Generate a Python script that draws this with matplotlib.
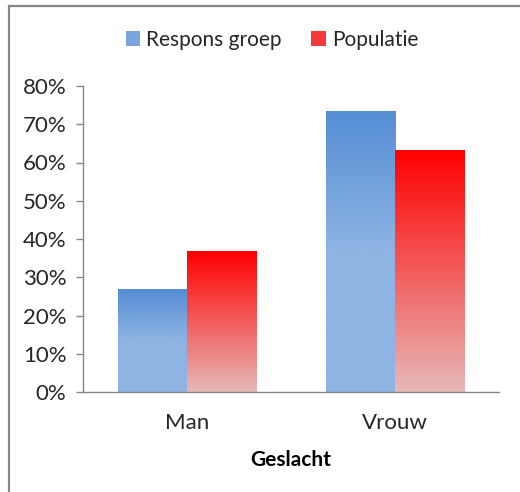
import numpy as np
import matplotlib
matplotlib.use("Agg")
import matplotlib.pyplot as plt
from matplotlib.colors import LinearSegmentedColormap
from matplotlib.patches import Rectangle, Patch
from matplotlib.ticker import PercentFormatter

categories = ["Man", "Vrouw"]
series_names = ["Respons groep", "Populatie"]
respons = [0.267, 0.733]
populatie = [0.368, 0.632]
yticks = [0.0, 0.1, 0.2, 0.3, 0.4, 0.5, 0.6, 0.7, 0.8]
xlabel = "Geslacht"

plt.rcParams['font.family'] = ['Lato', 'DejaVu Sans']

W, H = 520, 492
fig = plt.figure(figsize=(W / 100, H / 100), dpi=100)
ax = fig.add_axes([83 / W, 1 - 392 / H, (499 - 83) / W, (392 - 86) / H])

blue_cmap = LinearSegmentedColormap.from_list(
    "b", [(0.0, "#8eb4e3"), (0.5, "#8eb4e3"), (1.0, "#558ed5")])
red_cmap = LinearSegmentedColormap.from_list(
    "r", [(0.0, "#e6b9b8"), (1.0, "#ff0000")])

x = np.arange(len(categories))
bw = 1 / 3
bars1 = ax.bar(x - bw / 2, respons, bw, color="none", edgecolor="none")
bars2 = ax.bar(x + bw / 2, populatie, bw, color="none", edgecolor="none")

grad = np.linspace(0, 1, 256).reshape(-1, 1)
for bars, cmap in ((bars1, blue_cmap), (bars2, red_cmap)):
    for b in bars:
        x0, w, h = b.get_x(), b.get_width(), b.get_height()
        ax.imshow(grad, cmap=cmap, origin="lower", aspect="auto",
                  extent=(x0, x0 + w, 0, h), zorder=2, interpolation="bilinear")

ax.set_xlim(-0.5, len(categories) - 0.5)
ax.set_ylim(0, 0.8)
ax.set_yticks(yticks)
ax.yaxis.set_major_formatter(PercentFormatter(1.0, decimals=0))
ax.set_xticks(x)
ax.set_xticklabels(categories)

for s in ("top", "right"):
    ax.spines[s].set_visible(False)
for s in ("left", "bottom"):
    ax.spines[s].set_color("#868686")
    ax.spines[s].set_linewidth(1.0)
ax.tick_params(axis="y", colors="#868686", labelcolor="#262626", labelsize=16,
               length=5, width=1, direction="out", pad=7)
ax.tick_params(axis="x", length=0, labelcolor="#262626", labelsize=16, pad=15)
ax.set_xlabel(xlabel, fontsize=15, fontweight="bold", color="#000000", labelpad=12)

handles = [Patch(facecolor="#7aa5dc", edgecolor="none"),
           Patch(facecolor="#f53a3a", edgecolor="none")]
fig.legend(handles, series_names, loc="center", bbox_to_anchor=(272 / W, 1 - 40 / H),
           ncol=2, frameon=False, fontsize=15, handlelength=0.7, handleheight=0.7,
           handletextpad=0.3, columnspacing=1.4, labelcolor="#262626")

fig.patches.append(Rectangle((8.5 / W, -0.1), 1.2, 1 - 6 / H + 0.1,
                             transform=fig.transFigure, fill=False,
                             edgecolor="#868686", linewidth=1.6))

fig.savefig("out.png", dpi=100, facecolor="white")
